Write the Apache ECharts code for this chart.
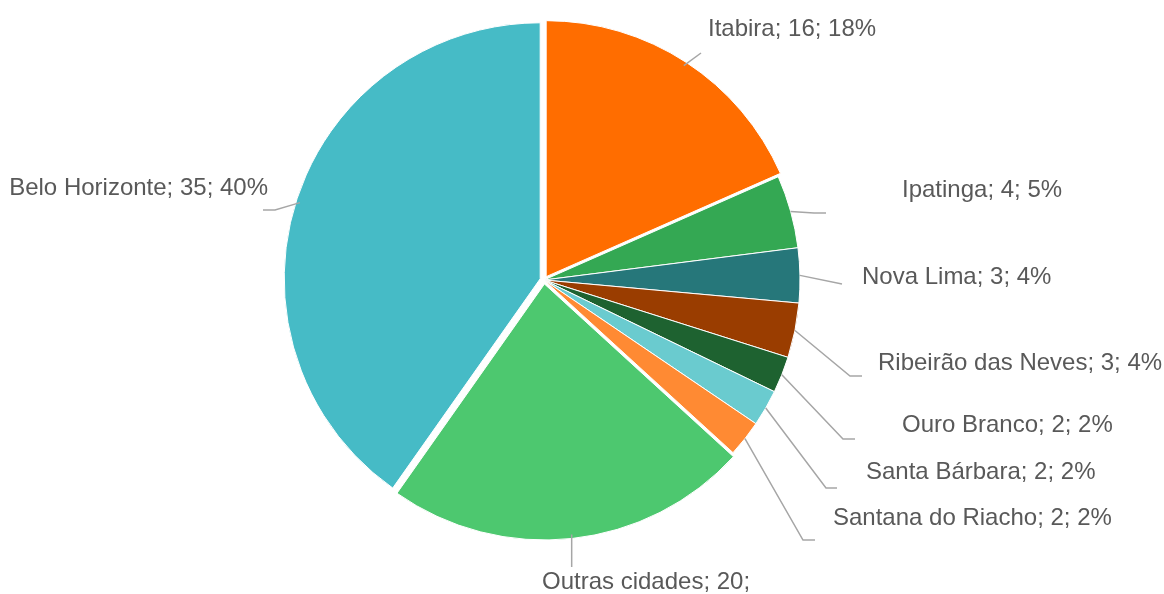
<!DOCTYPE html>
<html>
<head>
<meta charset="utf-8">
<script src="https://cdn.jsdelivr.net/npm/echarts@6/dist/echarts.min.js"></script>
<style>
  html, body { margin: 0; padding: 0; background: #fff; }
  #chart { width: 1164px; height: 594px; }
</style>
</head>
<body>
<div id="chart"></div>
<script>
// slices, clockwise from 12 o'clock
var cities = ['Itabira', 'Ipatinga', 'Nova Lima', 'Ribeirão das Neves', 'Ouro Branco',
    'Santa Bárbara', 'Santana do Riacho', 'Outras cidades', 'Belo Horizonte'];
var counts = [16, 4, 3, 3, 2, 2, 2, 20, 35];
var pctLabels = ['18%', '5%', '4%', '4%', '2%', '2%', '2%', '', '40%'];
var sliceColors = ['#FF6D00', '#34A853', '#26777A', '#9A3D00', '#1E6230',
    '#6ACBCF', '#FF8A33', '#4DC86F', '#46BBC6'];
var exploded = ['Itabira', 'Outras cidades', 'Belo Horizonte'];

// where each label sits (leader line bends + text anchor), same order as cities
// a null x means: keep the line vertical
var labelSpots = [
    { line: [[701, 53]], text: [708, 29], align: 'left' },
    { line: [[814, 213], [826, 213]], text: [902, 190], align: 'left' },
    { line: [[842, 284]], text: [862, 277], align: 'left' },
    { line: [[850, 376], [862, 376]], text: [878, 363], align: 'left' },
    { line: [[843, 439], [855, 439]], text: [902, 425], align: 'left' },
    { line: [[826, 488], [837, 488]], text: [866, 472], align: 'left' },
    { line: [[803, 540], [815, 540]], text: [833, 518], align: 'left' },
    { line: [[null, 567]], text: [542, 582], align: 'left' },
    { line: [[275, 210], [263, 210]], text: [268, 188], align: 'right' }
];

var myChart = echarts.init(document.getElementById('chart'));

var pieCenter = [544, 280];
var pieRadius = [0, 256];

var pieData = cities.map(function(name, i) {
    return {
        name: name,
        value: counts[i],
        selected: exploded.indexOf(name) >= 0,
        itemStyle: { color: sliceColors[i] }
    };
});

// same values again, drawn invisible, only to carry the labels
// (labels of selected slices ignore labelLayout)
var labelData = cities.map(function(name, i) {
    return { name: name, value: counts[i] };
});

var option = {
    animation: false,
    series: [
        {
            type: 'pie',
            center: pieCenter,
            radius: pieRadius,
            startAngle: 90,
            clockwise: true,
            selectedMode: 'multiple',
            selectedOffset: 4,
            silent: true,
            data: pieData,
            itemStyle: {
                borderColor: '#ffffff',
                borderWidth: 1
            },
            label: { show: false },
            labelLine: { show: false }
        },
        {
            type: 'pie',
            center: pieCenter,
            radius: pieRadius,
            startAngle: 90,
            clockwise: true,
            selectedMode: false,
            silent: true,
            z: 3,
            data: labelData,
            itemStyle: {
                color: 'rgba(0,0,0,0)',
                borderWidth: 0
            },
            label: {
                show: true,
                fontFamily: 'Liberation Sans, Arial, sans-serif',
                fontSize: 24,
                color: '#595959',
                width: 400,
                overflow: 'none',
                formatter: function(p) {
                    var pct = pctLabels[p.dataIndex];
                    return p.name + '; ' + p.value + ';' + (pct ? ' ' + pct : '');
                }
            },
            labelLine: {
                show: true,
                length: 18,
                length2: 12,
                lineStyle: { color: '#A6A6A6', width: 1.5 }
            },
            labelLayout: function(params) {
                var spot = labelSpots[params.dataIndex];
                var start = params.labelLinePoints ? params.labelLinePoints[0] : spot.line[0];
                var pts = spot.line.map(function(pt) {
                    return [pt[0] == null ? start[0] : pt[0], pt[1]];
                });
                return {
                    x: spot.text[0],
                    y: spot.text[1],
                    align: spot.align,
                    verticalAlign: 'middle',
                    labelLinePoints: [start].concat(pts)
                };
            }
        }
    ]
};

myChart.setOption(option, true);
</script>
</body>
</html>
